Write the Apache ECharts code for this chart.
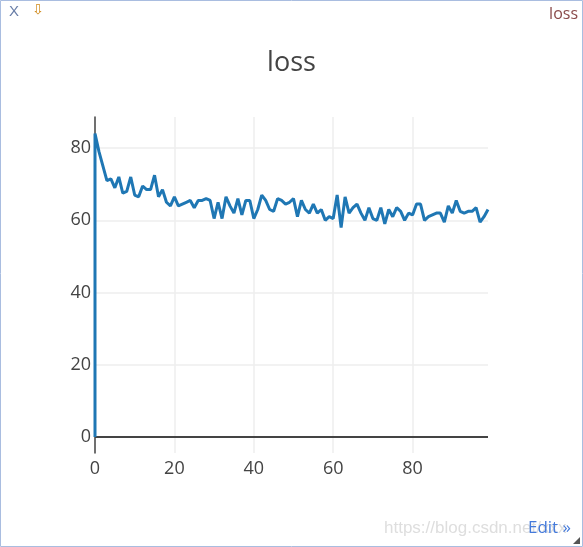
<!DOCTYPE html>
<html>
<head>
<meta charset="utf-8">
<script src="https://cdn.jsdelivr.net/npm/echarts@6/dist/echarts.min.js"></script>
<style>
html,body{margin:0;padding:0;background:#fff;}
#chart{width:583px;height:547px;}
</style>
</head>
<body>
<div id="chart"></div>
<script>
// x values (first point is the initial (0,0) point)
const steps = [0,0,1,2,3,4,5,6,7,8,9,10,11,12,13,14,15,16,17,18,19,20,21,22,23,24,25,26,27,28,29,30,31,32,33,34,35,36,37,38,39,40,41,42,43,44,45,46,47,48,49,50,51,52,53,54,55,56,57,58,59,60,61,62,63,64,65,66,67,68,69,70,71,72,73,74,75,76,77,78,79,80,81,82,83,84,85,86,87,88,89,90,91,92,93,94,95,96,97,98,99];
const lossValues = [0,84,79,75,71,71.5,69,72,67.5,68,72,67,66.5,69.5,68.5,68.5,72.5,66.5,68.5,65,64,66.5,64,64.5,65,65.5,63.5,65.5,65.5,66,65.5,60.5,65,60.5,66.5,64,62,66,61.5,65.5,65.5,60.5,63,67,65.5,63,62.5,66,65.5,64.5,65,66,61,65.5,63,62,64.5,62,63,60,61,60.5,67,58,66.5,62,63.5,64.5,62,60,63.5,60.5,60,63.5,59,63,61,63.5,62.5,60,62,61.5,64.5,64.5,60,61,61.5,62,62,59.5,64,62,65.5,62.5,62,62.5,62.5,63.5,59.5,61,63];
const xTicks = [0,20,40,60,80];
const yTicks = [0,20,40,60,80];
const chartTitle = 'loss';

const chart = echarts.init(document.getElementById('chart'), null, {renderer:'canvas'});
const font = '"Open Sans", "Noto Sans", sans-serif';
const data = steps.map((x,i)=>[x, lossValues[i]]);

chart.setOption({
  animation:false,
  backgroundColor:'#fff',
  title:{text:chartTitle, left:'center', top:45, textStyle:{fontFamily:font, fontSize:27, fontWeight:'normal', color:'#444'}},
  grid:{left:95, top:117, width:393, height:336},
  xAxis:{
    type:'value', min:0, max:99,
    axisLine:{show:false},
    axisTick:{show:false, customValues:xTicks},
    axisLabel:{customValues:xTicks, color:'#444', fontFamily:font, fontSize:18, margin:7},
    splitLine:{show:true, lineStyle:{color:'#eee', width:1.5}}
  },
  yAxis:{
    type:'value', min:-4.4, max:88.6,
    axisLine:{show:true, lineStyle:{color:'#444', width:1.5}},
    axisTick:{show:false, customValues:yTicks},
    axisLabel:{customValues:yTicks, color:'#444', fontFamily:font, fontSize:18, margin:4},
    splitLine:{show:true, lineStyle:{color:'#eee', width:1.5}}
  },
  series:[{
    type:'line', data:data, showSymbol:false,
    lineStyle:{color:'#1f77b4', width:3}, itemStyle:{color:'#1f77b4'},
    z:3,
    markLine:{silent:true, symbol:'none', label:{show:false},
      lineStyle:{color:'#444', width:2, type:'solid'},
      data:[{yAxis:0}], z:2}
  }],
  graphic:[
    {type:'rect', shape:{x:0.5,y:0.5,width:582,height:546}, style:{fill:'none', stroke:'#a9bde0', lineWidth:1}, silent:true},
    {type:'text', left:9, top:4, style:{text:'X', font:'15px "Liberation Sans", sans-serif', fill:'#6a7fa8'}},
    {type:'text', left:32, top:3, style:{text:'⇩', font:'14px "DejaVu Sans", sans-serif', fill:'#d08a1a'}},
    {type:'text', right:5, top:6, style:{text:'loss', font:'16px "Open Sans", sans-serif', fill:'#8a4a4a'}},
    {type:'text', left:384, bottom:10, style:{text:'https://blog.csdn.net/xxx', font:'17px "Liberation Sans", sans-serif', fill:'#dedede'}, z:1},
    {type:'text', right:12, bottom:10, style:{text:'Edit »', font:'17px "Open Sans", sans-serif', fill:'#447adb'}, z:2},
    {type:'polygon', shape:{points:[[580,537],[580,544],[573,544]]}, style:{fill:'#555'}}
  ]
});
</script>
</body>
</html>
